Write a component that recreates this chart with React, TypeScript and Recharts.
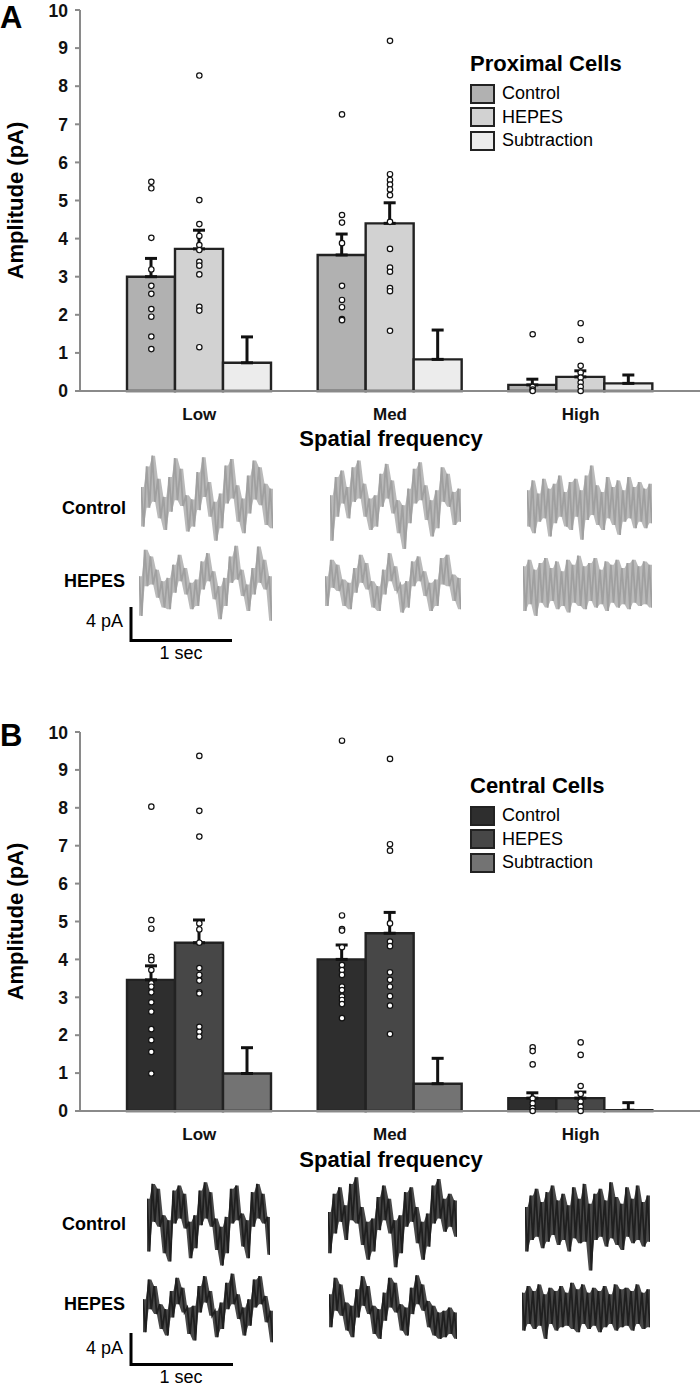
import {
  ComposedChart,
  Bar,
  ErrorBar,
  Scatter,
  XAxis,
  YAxis,
  Legend,
  Area,
  Line,
} from 'recharts'

const FONT = '"Liberation Sans", Arial, Helvetica, sans-serif'

// Bar chart data (amplitude, pA)
const CATEGORIES = ['Low', 'Med', 'High']
const Y_TICKS = [0, 1, 2, 3, 4, 5, 6, 7, 8, 9, 10]

const PROX_CONTROL = [3.0, 3.57, 0.16]
const PROX_HEPES = [3.73, 4.4, 0.37]
const PROX_SUBTRACTION = [0.74, 0.83, 0.2]
const PROX_CONTROL_SEM = [0.48, 0.55, 0.15]
const PROX_HEPES_SEM = [0.49, 0.54, 0.16]
const PROX_SUBTRACTION_SEM = [0.68, 0.77, 0.22]

const CENT_CONTROL = [3.46, 4.0, 0.34]
const CENT_HEPES = [4.44, 4.69, 0.34]
const CENT_SUBTRACTION = [0.99, 0.72, 0.02]
const CENT_CONTROL_SEM = [0.37, 0.38, 0.14]
const CENT_HEPES_SEM = [0.6, 0.55, 0.16]
const CENT_SUBTRACTION_SEM = [0.68, 0.67, 0.2]

// Individual cells, one list per spatial frequency
const PROX_CONTROL_CELLS = [
  [5.49, 5.32, 4.02, 3.19, 2.76, 2.55, 2.15, 1.95, 1.43, 1.1],
  [7.26, 4.62, 4.42, 3.88, 2.76, 2.39, 2.2, 1.89, 1.86],
  [1.49, 0.11, 0.04, 0.0],
]
const PROX_HEPES_CELLS = [
  [8.28, 5.01, 4.38, 4.07, 3.83, 3.7, 3.39, 3.29, 3.06, 2.21, 2.11, 1.15],
  [9.19, 5.69, 5.54, 5.42, 5.29, 5.14, 4.44, 3.73, 3.24, 3.13, 2.7, 2.62, 1.58],
  [1.78, 1.34, 0.66, 0.48, 0.35, 0.22, 0.11, 0.0],
]
const CENT_CONTROL_CELLS = [
  [8.03, 5.04, 4.81, 4.07, 3.98, 3.72, 3.37, 3.28, 3.13, 2.87, 2.62, 2.16, 1.87, 1.56, 0.99],
  [9.77, 5.16, 4.8, 4.76, 4.32, 3.85, 3.72, 3.59, 3.28, 3.19, 3.02, 2.93, 2.82, 2.45],
  [1.68, 1.58, 1.23, 0.33, 0.2, 0.07, 0.0],
]
const CENT_HEPES_CELLS = [
  [9.37, 7.92, 7.24, 4.95, 4.79, 4.44, 3.77, 3.59, 3.44, 3.13, 3.1, 2.22, 2.09, 1.96],
  [9.29, 7.04, 6.87, 4.95, 4.47, 4.35, 3.66, 3.46, 3.28, 3.03, 2.78, 2.03],
  [1.81, 1.48, 0.66, 0.45, 0.25, 0.11, 0.0],
]

// Example current traces (pA): upper, lower excursion pairs
const PROX_LOW_CONTROL_TRACE = [
  2.0, -2.8, 4.5, -0.5, 5.8, 0.2, 3.0, -1.8, 0.8, -3.2, 3.2, -1.0, 5.5, 0.4, 4.2, -0.3,
  1.0, -3.4, 0.5, -2.8, 3.8, -0.8, 5.6, 0.8, 2.6, -1.6, 0.2, -4.5, 1.2, -3.0, 4.6, 0.0,
  5.4, 0.6, 2.2, -2.2, 0.6, -3.6, 3.4, -1.2, 5.2, 0.5, 4.4, -0.2, 2.4, -2.6, 1.8, -3.0,
]
const PROX_LOW_HEPES_TRACE = [
  1.0, -3.8, 4.2, -0.2, 3.4, 0.0, 1.8, -1.6, 0.4, -2.8, 0.8, -3.0, 2.4, -1.0, 3.6, 0.4,
  2.0, -1.2, 0.2, -3.0, 0.6, -2.6, 2.8, -0.6, 3.8, 0.4, 1.6, -1.8, -0.2, -4.2, 0.8, -2.6,
  3.4, 0.2, 4.7, 0.6, 1.8, -1.4, 0.0, -3.2, 2.0, -1.2, 4.6, 0.2, 3.0, -0.6, 1.0, -4.4,
]
const PROX_MED_CONTROL_TRACE = [
  1.0, -4.5, 3.2, -1.6, 4.0, 0.0, 2.0, -1.8, 4.4, 0.2, 5.2, 0.6, 2.4, -1.6, 0.6, -3.2,
  1.0, -2.8, 3.6, -0.4, 4.8, 0.6, 2.8, -1.2, 0.4, -3.6, -0.2, -5.5, 1.8, -2.4, 4.2, 0.0,
  5.0, 0.4, 2.2, -2.0, 0.4, -4.0, 1.6, -3.0, 4.4, 0.2, 3.6, -0.4, 1.4, -2.6, 1.8, -2.2,
]
const PROX_MED_HEPES_TRACE = [
  1.0, -2.6, 3.0, -0.4, 2.4, -0.8, 0.6, -2.6, 0.2, -3.0, 2.0, -1.0, 3.6, 0.2, 2.6, -0.6,
  0.4, -2.8, -0.2, -3.2, 1.8, -1.2, 3.8, 0.4, 2.2, -0.8, 0.0, -3.4, 0.4, -2.8, 2.8, -0.2,
  3.4, 0.4, 1.6, -1.4, 0.2, -3.2, 0.6, -2.6, 3.2, 0.0, 3.6, -0.2, 1.2, -2.0, 0.8, -3.0,
]
const PROX_HIGH_CONTROL_TRACE = [
  1.6, -2.8, 2.8, -3.6, 1.2, -2.2, 3.0, -1.8, 1.8, -4.0, 2.4, -2.4, 3.4, -1.6, 1.4, -2.8,
  2.6, -3.2, 3.0, -1.6, 1.6, -4.4, 3.4, -2.0, 4.6, -1.4, 2.2, -2.6, 1.4, -3.2, 3.2, -1.8,
  2.0, -2.6, 2.8, -3.8, 1.6, -2.2, 3.2, -1.8, 2.0, -3.0, 2.6, -2.2, 1.8, -3.0, 2.4, -2.4,
]
const PROX_HIGH_HEPES_TRACE = [
  2.2, -3.2, 3.0, -2.4, 1.8, -3.8, 2.6, -2.2, 3.2, -2.8, 2.0, -2.0, 2.8, -3.0, 1.6, -2.6,
  3.0, -3.4, 2.4, -2.2, 3.5, -2.6, 2.2, -3.0, 2.6, -2.0, 3.2, -2.8, 1.8, -2.4, 2.8, -3.2,
  2.4, -2.2, 3.0, -2.8, 2.0, -2.4, 2.6, -3.0, 3.0, -2.2, 2.2, -2.6, 2.8, -2.4, 2.4, -2.8,
]
const CENT_LOW_CONTROL_TRACE = [
  3.0, -3.4, 4.8, 0.2, 4.2, -0.4, 1.0, -3.6, 0.4, -4.6, 4.0, 0.0, 4.6, 0.6, 3.6, -0.6,
  0.2, -4.2, 1.0, -3.0, 4.0, -0.2, 5.0, 0.6, 3.8, -0.4, 0.6, -3.2, -0.4, -5.1, 0.8, -3.6,
  4.2, 0.0, 4.6, 0.4, 1.2, -2.8, 0.4, -4.2, 3.8, -0.4, 4.8, 0.6, 3.6, 0.0, 0.8, -3.8,
]
const CENT_LOW_HEPES_TRACE = [
  1.0, -3.0, 3.4, -0.2, 2.6, -0.8, 0.4, -2.6, -0.2, -3.4, 2.0, -1.2, 3.6, 0.4, 2.4, -0.6,
  0.0, -3.2, 0.2, -4.0, 2.6, -0.6, 3.8, 0.6, 2.0, -1.0, -0.4, -3.6, 0.6, -2.6, 3.0, -0.2,
  4.1, 0.4, 1.6, -1.4, 0.0, -3.4, 1.0, -2.2, 3.4, 0.0, 3.8, 0.4, 1.4, -1.8, -0.4, -4.2,
]
const CENT_MED_CONTROL_TRACE = [
  1.4, -3.6, 3.6, -1.2, 4.4, 0.2, 2.2, -2.0, 4.8, 0.4, 5.6, 0.0, 2.0, -2.6, 0.2, -4.4,
  0.6, -3.4, 3.2, -0.8, 4.6, 0.4, 3.0, -1.2, 0.4, -5.3, 1.0, -3.6, 3.8, -0.4, 4.4, 0.2,
  2.0, -2.4, 0.2, -4.4, 1.2, -2.8, 4.6, 0.0, 5.4, 0.6, 3.0, -1.0, 3.6, -0.4, 2.8, -1.6,
]
const CENT_MED_HEPES_TRACE = [
  1.6, -2.4, 3.6, -0.4, 2.8, -1.0, 0.6, -2.8, 0.2, -3.6, 2.2, -1.2, 3.8, 0.2, 2.6, -0.8,
  0.2, -3.2, -0.2, -3.8, 1.8, -1.6, 3.6, 0.0, 3.0, -0.6, 0.4, -2.8, 0.0, -3.4, 2.4, -0.8,
  3.9, 0.4, 2.8, -0.4, 0.8, -2.4, 0.2, -3.4, -0.6, -3.8, -0.4, -3.6, 0.0, -3.2, -0.6, -3.8,
]
const CENT_HIGH_CONTROL_TRACE = [
  2.0, -3.4, 3.4, -2.0, 4.2, -1.6, 2.6, -3.0, 3.8, -2.2, 4.6, -1.4, 2.8, -2.6, 3.6, -2.0,
  2.2, -3.4, 4.4, -1.8, 3.0, -2.4, 4.8, -2.2, 2.4, -5.7, 3.6, -2.0, 4.2, -1.6, 2.8, -2.8,
  5.0, -1.8, 3.2, -2.6, 2.4, -3.2, 4.4, -1.6, 3.0, -2.4, 4.6, -2.0, 2.6, -2.8, 3.4, -2.2,
]
const CENT_HIGH_HEPES_TRACE = [
  1.8, -2.8, 2.6, -2.0, 2.0, -2.6, 2.8, -2.2, 1.6, -3.8, 2.4, -2.0, 2.0, -2.8, 2.6, -2.4,
  1.8, -2.2, 3.0, -2.6, 2.2, -3.0, 2.8, -2.0, 1.8, -2.6, 2.4, -2.2, 2.0, -3.0, 2.6, -2.4,
  1.6, -2.0, 2.8, -2.8, 2.2, -2.4, 2.4, -2.2, 2.0, -2.8, 2.8, -2.0, 1.8, -2.6, 2.2, -2.4,
]

const PROX_COLORS = ['#b1b1b1', '#d2d2d2', '#ececec']
const CENT_COLORS = ['#2e2e2e', '#474747', '#737373']
const AXIS_GRAY = '#8a8a8a'
const TRACE_HALF = 49.5 // 6 pA each side at 8.25 px/pA

// Open circle, shifted onto its bar
const dotShape = (dx: number) => (props: any) => {
  if (props.cx == null || props.cy == null) return <g />
  return (
    <circle
      cx={props.cx + dx}
      cy={props.cy}
      r={2.7}
      fill="#fff"
      stroke="#111"
      strokeWidth={1.2}
    />
  )
}

function CellsLegend({ title, payload }: { title: string; payload?: any[] }) {
  const items = (payload || []).filter((p) => p.type !== 'none')
  return (
    <div style={{ fontFamily: FONT, color: '#000' }}>
      <div style={{ fontWeight: 700, fontSize: 22, lineHeight: '24px' }}>{title}</div>
      <div style={{ marginTop: 6 }}>
        {items.map((item) => (
          <div
            key={item.value}
            style={{ display: 'flex', alignItems: 'center', height: 23.5 }}
          >
            <span
              style={{
                display: 'inline-block',
                width: 25,
                height: 20,
                boxSizing: 'border-box',
                background: item.color,
                border: '2.5px solid #222',
              }}
            />
            <span style={{ marginLeft: 7, fontSize: 18 }}>{item.value}</span>
          </div>
        ))}
      </div>
    </div>
  )
}

interface PanelProps {
  top: number
  height: number
  title: string
  control: number[]
  hepes: number[]
  subtraction: number[]
  controlSem: number[]
  hepesSem: number[]
  subtractionSem: number[]
  controlCells: number[][]
  hepesCells: number[][]
  colors: string[]
}

function AmplitudePanel(p: PanelProps) {
  const data = CATEGORIES.map((name, i) => ({
    name,
    control: p.control[i],
    hepes: p.hepes[i],
    subtraction: p.subtraction[i],
    controlErr: [0, p.controlSem[i]],
    hepesErr: [0, p.hepesSem[i]],
    subtractionErr: [0, p.subtractionSem[i]],
  }))
  const controlPts = CATEGORIES.flatMap((name, i) => p.controlCells[i].map((v) => ({ name, v })))
  const hepesPts = CATEGORIES.flatMap((name, i) => p.hepesCells[i].map((v) => ({ name, v })))

  const errorProps = {
    width: 6,
    strokeWidth: 3,
    stroke: '#111',
    direction: 'y' as const,
    isAnimationActive: false,
  }

  return (
    <div style={{ position: 'absolute', left: 0, top: p.top }}>
      <ComposedChart
        width={700}
        height={p.height}
        data={data}
        margin={{ top: 10, right: 0, bottom: 0, left: 0 }}
        barGap={0}
        barSize={48}
      >
        <XAxis
          dataKey="name"
          allowDuplicatedCategory={false}
          padding={{ left: 24, right: 24 }}
          height={39}
          tickLine={false}
          tickSize={0}
          tickMargin={17}
          axisLine={{ stroke: AXIS_GRAY, strokeWidth: 2 }}
          tick={{ fill: '#111', fontSize: 17, fontWeight: 700 }}
        />
        <YAxis
          domain={[0, 10]}
          ticks={Y_TICKS}
          width={80}
          tickSize={5}
          tickMargin={7}
          axisLine={{ stroke: AXIS_GRAY, strokeWidth: 2 }}
          tickLine={{ stroke: AXIS_GRAY, strokeWidth: 2 }}
          tick={{ fill: '#111', fontSize: 17.5, fontWeight: 700 }}
        />
        <Bar dataKey="control" name="Control" fill={p.colors[0]} stroke="#222" strokeWidth={2.4} isAnimationActive={false}>
          <ErrorBar dataKey="controlErr" {...errorProps} />
        </Bar>
        <Bar dataKey="hepes" name="HEPES" fill={p.colors[1]} stroke="#222" strokeWidth={2.4} isAnimationActive={false}>
          <ErrorBar dataKey="hepesErr" {...errorProps} />
        </Bar>
        <Bar dataKey="subtraction" name="Subtraction" fill={p.colors[2]} stroke="#222" strokeWidth={2.4} isAnimationActive={false}>
          <ErrorBar dataKey="subtractionErr" {...errorProps} />
        </Bar>
        <Scatter data={controlPts} dataKey="v" legendType="none" isAnimationActive={false} shape={dotShape(-48)} />
        <Scatter data={hepesPts} dataKey="v" legendType="none" isAnimationActive={false} shape={dotShape(0)} />
        <Legend
          layout="vertical"
          align="center"
          verticalAlign="middle"
          wrapperStyle={{ left: 470, top: 52, width: 'auto' }}
          content={(lp: any) => <CellsLegend title={p.title} payload={lp.payload} />}
        />
      </ComposedChart>
    </div>
  )
}

// Noisy current trace: light envelope between excursions, darker raw zigzag on top
function Trace({
  values,
  left,
  centerY,
  width,
  core,
  fringe,
}: {
  values: number[]
  left: number
  centerY: number
  width: number
  core: string
  fringe: string
}) {
  const data = values.map((v, i) => {
    const k = i - (i % 2)
    return { i, v, band: [values[k + 1] ?? v, values[k]] }
  })
  return (
    <div style={{ position: 'absolute', left, top: centerY - TRACE_HALF }}>
      <ComposedChart width={width} height={TRACE_HALF * 2} data={data} margin={{ top: 0, right: 0, bottom: 0, left: 0 }}>
        <XAxis dataKey="i" type="number" domain={[0, values.length - 1]} hide />
        <YAxis domain={[-6, 6]} hide />
        <Area
          dataKey="band"
          type="linear"
          fill={fringe}
          fillOpacity={1}
          stroke="none"
          dot={false}
          activeDot={false}
          isAnimationActive={false}
        />
        <Line
          dataKey="v"
          type="linear"
          stroke={core}
          strokeWidth={1.8}
          dot={false}
          activeDot={false}
          isAnimationActive={false}
        />
      </ComposedChart>
    </div>
  )
}

function Annotations() {
  const bold = { fontWeight: 700, fill: '#000' }
  return (
    <svg
      width={700}
      height={1386}
      style={{ position: 'absolute', left: 0, top: 0, pointerEvents: 'none', fontFamily: FONT }}
    >
      {/* Panel letters */}
      <text x={0} y={28} fontSize={31} {...bold}>A</text>
      <text x={0} y={746} fontSize={31} {...bold}>B</text>

      {/* Y axis titles */}
      <text x={22.5} y={200.5} fontSize={22} textAnchor="middle" transform="rotate(-90 22.5 200.5)" {...bold}>
        Amplitude (pA)
      </text>
      <text x={22.5} y={921.5} fontSize={22} textAnchor="middle" transform="rotate(-90 22.5 921.5)" {...bold}>
        Amplitude (pA)
      </text>

      {/* X axis titles */}
      <text x={391} y={446} fontSize={22} textAnchor="middle" {...bold}>Spatial frequency</text>
      <text x={391} y={1167} fontSize={22} textAnchor="middle" {...bold}>Spatial frequency</text>

      {/* Trace row labels */}
      <text x={126} y={514} fontSize={18} textAnchor="end" {...bold}>Control</text>
      <text x={125} y={587} fontSize={18} textAnchor="end" {...bold}>HEPES</text>
      <text x={126} y={1230} fontSize={18} textAnchor="end" {...bold}>Control</text>
      <text x={125} y={1310} fontSize={18} textAnchor="end" {...bold}>HEPES</text>

      {/* Scale bars */}
      <g stroke="#000" strokeWidth={3} fill="none">
        <path d="M131 607 V640.5 H232" />
        <path d="M131 1333 V1364.5 H233" />
      </g>
      <text x={123} y={627} fontSize={18} textAnchor="end" fill="#000">4 pA</text>
      <text x={181} y={659} fontSize={18} textAnchor="middle" fill="#000">1 sec</text>
      <text x={123} y={1354} fontSize={18} textAnchor="end" fill="#000">4 pA</text>
      <text x={181} y={1383} fontSize={18} textAnchor="middle" fill="#000">1 sec</text>
    </svg>
  )
}

const PROX_TRACE_CORE = '#a0a0a0'
const PROX_TRACE_FRINGE = '#bababa'
const CENT_TRACE_CORE = '#1f1f1f'
const CENT_TRACE_FRINGE = '#484848'

export default function App() {
  return (
    <div
      style={{
        position: 'absolute',
        left: 0,
        top: 0,
        width: 700,
        height: 1386,
        background: '#fff',
        fontFamily: FONT,
        overflow: 'hidden',
      }}
    >
      <AmplitudePanel
        top={0}
        height={430}
        title="Proximal Cells"
        control={PROX_CONTROL}
        hepes={PROX_HEPES}
        subtraction={PROX_SUBTRACTION}
        controlSem={PROX_CONTROL_SEM}
        hepesSem={PROX_HEPES_SEM}
        subtractionSem={PROX_SUBTRACTION_SEM}
        controlCells={PROX_CONTROL_CELLS}
        hepesCells={PROX_HEPES_CELLS}
        colors={PROX_COLORS}
      />
      <AmplitudePanel
        top={722}
        height={428}
        title="Central Cells"
        control={CENT_CONTROL}
        hepes={CENT_HEPES}
        subtraction={CENT_SUBTRACTION}
        controlSem={CENT_CONTROL_SEM}
        hepesSem={CENT_HEPES_SEM}
        subtractionSem={CENT_SUBTRACTION_SEM}
        controlCells={CENT_CONTROL_CELLS}
        hepesCells={CENT_HEPES_CELLS}
        colors={CENT_COLORS}
      />

      {/* Proximal traces */}
      <Trace values={PROX_LOW_CONTROL_TRACE} left={141} centerY={503} width={132} core={PROX_TRACE_CORE} fringe={PROX_TRACE_FRINGE} />
      <Trace values={PROX_MED_CONTROL_TRACE} left={330} centerY={503} width={131} core={PROX_TRACE_CORE} fringe={PROX_TRACE_FRINGE} />
      <Trace values={PROX_HIGH_CONTROL_TRACE} left={527} centerY={503} width={125} core={PROX_TRACE_CORE} fringe={PROX_TRACE_FRINGE} />
      <Trace values={PROX_LOW_HEPES_TRACE} left={139} centerY={584} width={133} core={PROX_TRACE_CORE} fringe={PROX_TRACE_FRINGE} />
      <Trace values={PROX_MED_HEPES_TRACE} left={325} centerY={584} width={136} core={PROX_TRACE_CORE} fringe={PROX_TRACE_FRINGE} />
      <Trace values={PROX_HIGH_HEPES_TRACE} left={523} centerY={584} width={129} core={PROX_TRACE_CORE} fringe={PROX_TRACE_FRINGE} />

      {/* Central traces */}
      <Trace values={CENT_LOW_CONTROL_TRACE} left={147} centerY={1223} width={123} core={CENT_TRACE_CORE} fringe={CENT_TRACE_FRINGE} />
      <Trace values={CENT_MED_CONTROL_TRACE} left={328} centerY={1223} width={129} core={CENT_TRACE_CORE} fringe={CENT_TRACE_FRINGE} />
      <Trace values={CENT_HIGH_CONTROL_TRACE} left={525} centerY={1223} width={125} core={CENT_TRACE_CORE} fringe={CENT_TRACE_FRINGE} />
      <Trace values={CENT_LOW_HEPES_TRACE} left={143} centerY={1307} width={130} core={CENT_TRACE_CORE} fringe={CENT_TRACE_FRINGE} />
      <Trace values={CENT_MED_HEPES_TRACE} left={329} centerY={1307} width={128} core={CENT_TRACE_CORE} fringe={CENT_TRACE_FRINGE} />
      <Trace values={CENT_HIGH_HEPES_TRACE} left={522} centerY={1307} width={128} core={CENT_TRACE_CORE} fringe={CENT_TRACE_FRINGE} />

      <Annotations />
    </div>
  )
}
